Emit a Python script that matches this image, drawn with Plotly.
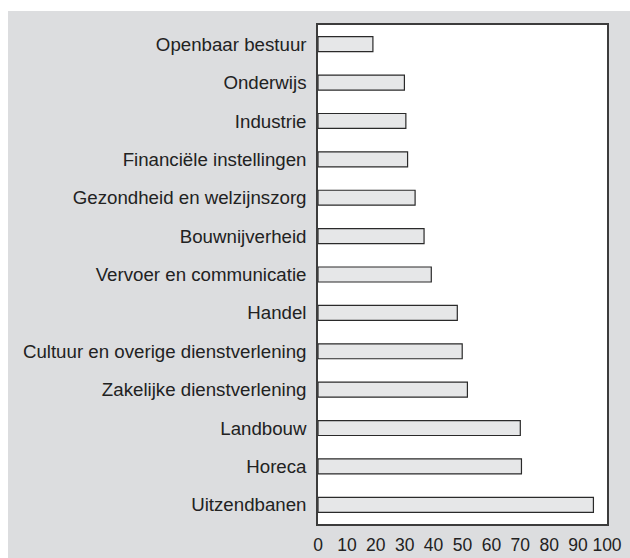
import plotly.graph_objects as go

sectors = [
    "Openbaar bestuur",
    "Onderwijs",
    "Industrie",
    "Financiële instellingen",
    "Gezondheid en welzijnszorg",
    "Bouwnijverheid",
    "Vervoer en communicatie",
    "Handel",
    "Cultuur en overige dienstverlening",
    "Zakelijke dienstverlening",
    "Landbouw",
    "Horeca",
    "Uitzendbanen",
]
values = [19.0, 29.9, 30.4, 31.0, 33.6, 36.7, 39.2, 48.2, 49.9, 51.7, 70.0, 70.4, 95.3]
x_ticks = [0, 10, 20, 30, 40, 50, 60, 70, 80, 90, 100]

GRAY = "#dcdddf"
FONT = "Liberation Sans, Arial, Helvetica, sans-serif"

fig = go.Figure(
    go.Bar(
        x=values,
        y=sectors,
        orientation="h",
        width=0.39,
        marker=dict(color="#e6e7e8", line=dict(color="#2a2a2a", width=1.2)),
        hoverinfo="x+y",
    )
)

fig.update_layout(
    width=630,
    height=558,
    margin=dict(l=318, r=23, t=25, b=34),
    paper_bgcolor=GRAY,
    plot_bgcolor="white",
    showlegend=False,
    font=dict(family=FONT, size=17, color="#222222"),
    shapes=[
        dict(type="rect", xref="paper", yref="paper",
             x0=-1.2, x1=1.2, y0=(524 - 11) / 499, y1=1.2,
             fillcolor="white", line=dict(width=0), layer="above"),
        dict(type="rect", xref="paper", yref="paper",
             x0=-1.2, x1=(8 - 318) / 289, y0=-0.2, y1=1.2,
             fillcolor="white", line=dict(width=0), layer="above"),
    ],
)

fig.update_xaxes(
    range=[0, 100],
    tickvals=x_ticks,
    ticktext=[str(t) for t in x_ticks],
    showgrid=False,
    zeroline=False,
    showline=True,
    mirror=True,
    linecolor="#3c3c3c",
    linewidth=1.5,
    ticks="",
    ticklabelstandoff=4,
    automargin=False,
    tickfont=dict(size=17.5, family=FONT, color="#222222"),
)
fig.update_yaxes(
    autorange="reversed",
    showgrid=False,
    zeroline=False,
    showline=True,
    mirror=True,
    linecolor="#3c3c3c",
    linewidth=1.5,
    ticks="",
    ticklabelstandoff=6,
    automargin=False,
    tickfont=dict(size=18.7, family=FONT, color="#222222"),
)

fig.write_html(
    "out.html",
    config={"displayModeBar": False},
    post_script="document.body.style.margin='0';document.body.style.padding='0';",
)
